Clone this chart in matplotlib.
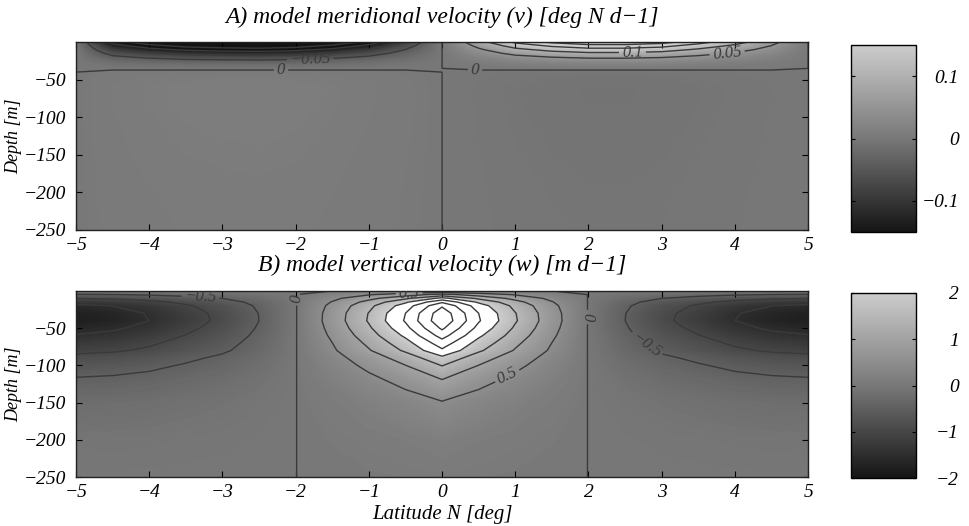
import numpy as np
import matplotlib
matplotlib.use("Agg")
import matplotlib.pyplot as plt
import matplotlib.cm as cm
from matplotlib.colors import LinearSegmentedColormap, Normalize

# ---------------- data ----------------
lat = [-5.0, -4.5, -4.0, -3.5, -3.0, -2.5, -2.0, -1.5, -1.0, -0.5, 0.0,
       0.5, 1.0, 1.5, 2.0, 2.5, 3.0, 3.5, 4.0, 4.5, 5.0]

# panel A: meridional velocity = lat profile x depth profile
v_lat = [0.0, -0.17, -0.24, -0.29, -0.31, -0.32, -0.30, -0.25, -0.18, -0.09, 0.0,
         0.08, 0.16, 0.21, 0.24, 0.24, 0.22, 0.17, 0.12, 0.065, 0.0]
depth_v = [0, -5, -10, -15, -20, -25, -30, -35, -40, -50, -60, -75, -100,
           -150, -200, -250]
v_depth = [1.0, 0.75, 0.55, 0.38, 0.24, 0.13, 0.055, 0.012, -0.015, -0.025,
           -0.03, -0.03, -0.028, -0.024, -0.02, -0.018]

# panel B: vertical velocity = lat profile x depth profile
w_lat = [-1.8, -1.7, -1.5, -1.2, -0.9, -0.5, -0.02, 0.7, 1.55, 2.55, 3.9,
         2.55, 1.55, 0.7, -0.02, -0.5, -0.9, -1.2, -1.5, -1.7, -1.8]
depth_w = [0, -5, -10, -15, -20, -30, -40, -50, -60, -70, -80, -90, -100,
           -120, -150, -200, -250]
w_depth = [0.0, 0.30, 0.55, 0.75, 0.88, 0.98, 1.0, 0.92, 0.82, 0.71, 0.62,
           0.48, 0.39, 0.25, 0.12, 0.04, 0.01]

v_levels = [-0.2, -0.15, -0.1, -0.05, 0.0, 0.05, 0.1, 0.15, 0.2]
w_levels = [-1.5, -1.0, -0.5, 0.0, 0.5, 1.0, 1.5, 2.0, 2.5, 3.0, 3.5]
v_cbar_ticks = [-0.1, 0.0, 0.1]
v_cbar_labels = ["\u22120.1", "0", "0.1"]
w_cbar_ticks = [-2, -1, 0, 1, 2]
w_cbar_labels = ["\u22122", "\u22121", "0", "1", "2"]
x_ticks = [-5, -4, -3, -2, -1, 0, 1, 2, 3, 4, 5]
y_ticks = [-250, -200, -150, -100, -50]

# ---------------- styling ----------------
FONT = "Liberation Serif"
plt.rcParams["font.family"] = [FONT, "DejaVu Serif"]
plt.rcParams["font.style"] = "italic"
plt.rcParams["axes.unicode_minus"] = True
plt.rcParams["contour.negative_linestyle"] = "solid"

dark = (0.08, 0.08, 0.08)
light = (0.80, 0.80, 0.80)
cmap = LinearSegmentedColormap.from_list("g", [dark, (0.47, 0.47, 0.47), light])
cmap_a = cmap.copy()
cmap_a.set_over(light)
cmap_a.set_under(dark)
cmap_w = cmap.copy()
cmap_w.set_over("white")
cmap_w.set_under(dark)

fig = plt.figure(figsize=(9.69, 5.26), dpi=100)

axA = fig.add_axes([0.0784, 0.563, 0.7556, 0.357])
axB = fig.add_axes([0.0784, 0.093, 0.7556, 0.354])
caxA = fig.add_axes([0.878, 0.559, 0.067, 0.355])
caxB = fig.add_axes([0.878, 0.091, 0.067, 0.352])

LAT = np.array(lat)
V = np.outer(np.array(v_depth), np.array(v_lat))
W = np.outer(np.array(w_depth), np.array(w_lat))
XA, YA = np.meshgrid(LAT, np.array(depth_v, dtype=float))
XB, YB = np.meshgrid(LAT, np.array(depth_w, dtype=float))

line_col = "#3a3a3a"
fmt = lambda v: f"{v:g}".replace("-", "\u2212")

# panel A
axA.contourf(XA, YA, V, levels=np.linspace(-0.15, 0.15, 301), cmap=cmap_a,
             extend="both")
csA = axA.contour(XA, YA, V, levels=v_levels, colors=line_col, linewidths=1.0)
axA.clabel(csA, fontsize=12, fmt=fmt,
           manual=[(-1.8, -24), (-2.2, -37), (2.6, -13), (3.9, -21), (0.45, -40)],
           inline=True, inline_spacing=3, colors=line_col)

# panel B
axB.contourf(XB, YB, W, levels=np.linspace(-2, 2, 161), cmap=cmap_w,
             extend="both")
csB = axB.contour(XB, YB, W, levels=w_levels, colors=line_col, linewidths=1.0)
axB.clabel(csB, fontsize=12, fmt=fmt,
           manual=[(-3.3, -6), (-2.0, -10), (-0.45, -4), (0.9, -116),
                   (2.0, -35), (2.75, -77)],
           inline=True, inline_spacing=3, colors=line_col)

titles = ["A) model meridional velocity (v) [deg N d\u22121]",
          "B) model vertical velocity (w) [m d\u22121]"]
for ax, t in zip([axA, axB], titles):
    ax.set_xlim(-5, 5)
    ax.set_ylim(-250, 0)
    ax.set_xticks(x_ticks)
    ax.set_yticks(y_ticks)
    ax.tick_params(direction="in", length=4, labelsize=14, top=True, right=True)
    ax.tick_params(axis="x", pad=5)
    ax.tick_params(axis="y", pad=7)
    ax.set_ylabel("Depth [m]", fontsize=13, labelpad=1)
    ax.set_title(t, fontsize=17, pad=14)
    for s in ax.spines.values():
        s.set_linewidth(1.0)
        s.set_color("#222222")
axB.set_xlabel("Latitude N [deg]", fontsize=15, labelpad=3)

smA = cm.ScalarMappable(norm=Normalize(-0.15, 0.15), cmap=cmap)
smB = cm.ScalarMappable(norm=Normalize(-2, 2), cmap=cmap)
cbA = fig.colorbar(smA, cax=caxA, ticks=v_cbar_ticks)
cbB = fig.colorbar(smB, cax=caxB, ticks=w_cbar_ticks)
cbA.ax.set_yticklabels(v_cbar_labels)
cbB.ax.set_yticklabels(w_cbar_labels)
for cb in (cbA, cbB):
    cb.ax.tick_params(direction="in", length=3, labelsize=14, pad=31,
                      left=True, right=True)
    for lab in cb.ax.get_yticklabels():
        lab.set_horizontalalignment("right")
    cb.outline.set_linewidth(1.0)

fig.savefig("out.png", dpi=100)
